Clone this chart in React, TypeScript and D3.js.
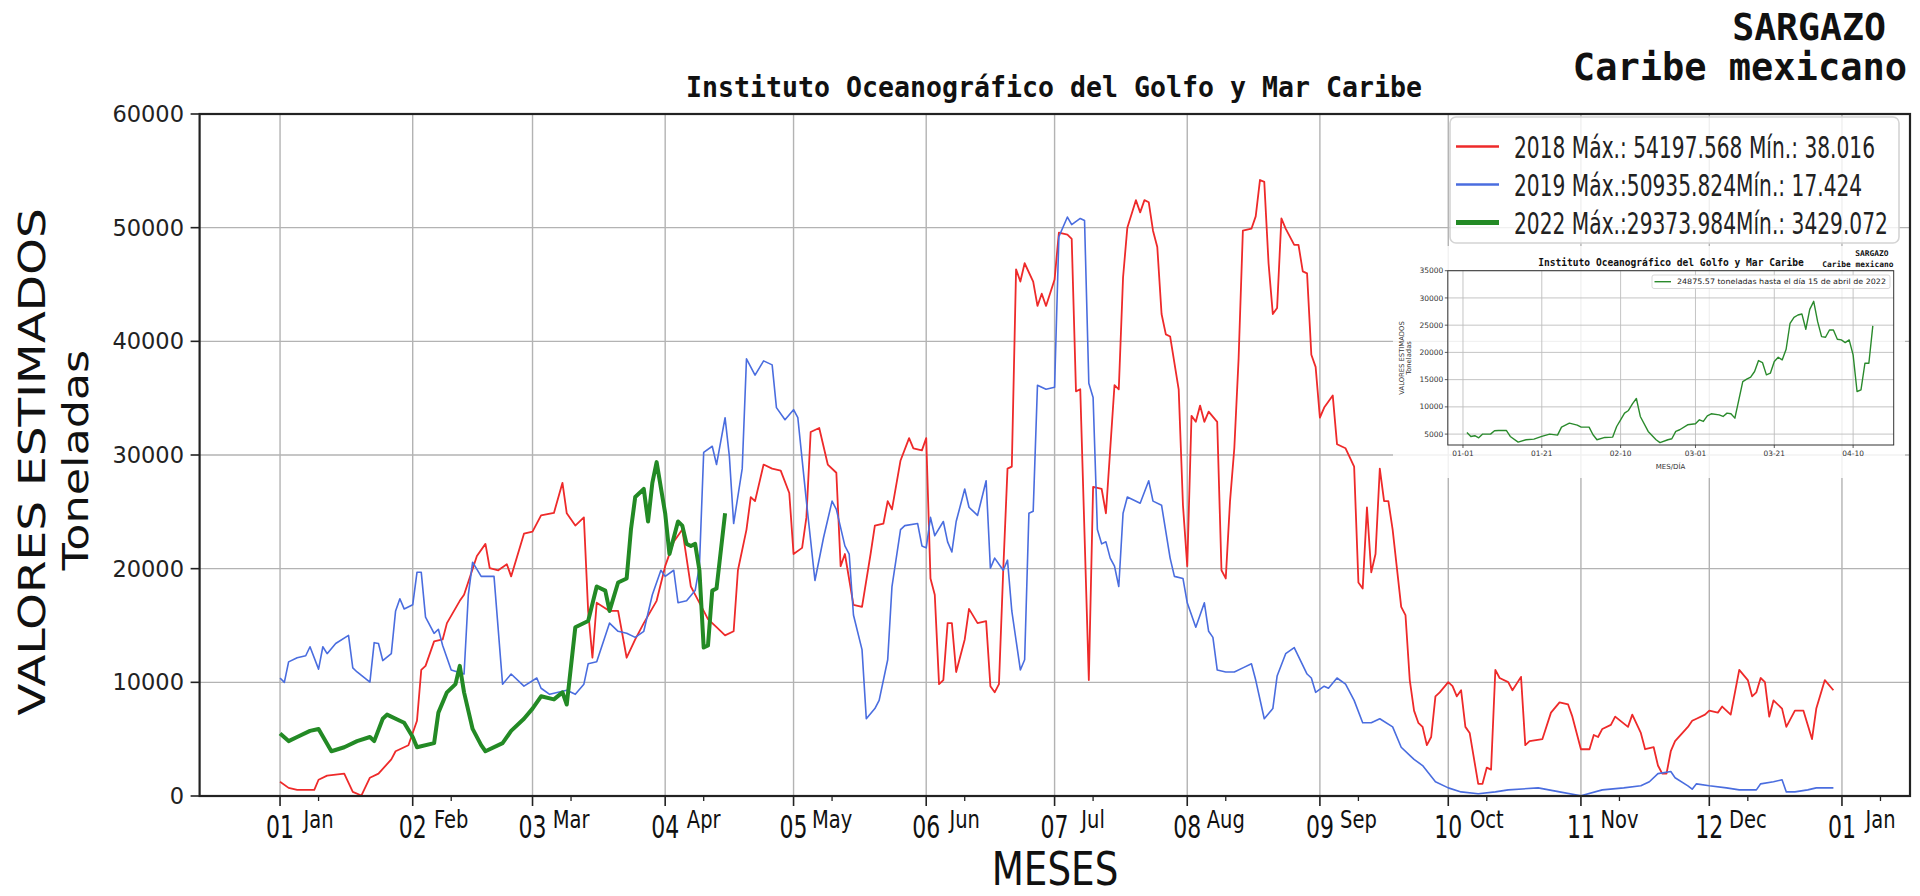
import * as d3 from "d3";

// ---- data (día del año, 0 = 1 de enero; toneladas) ----
const serie2018: [number, number][] = [
  [0,1250],[2,715],[4,540],[8,540],[9,1430],[11,1790],[15,1970],[17,360],[19,40],[21,1610],[23,1970],[26,3220],[27,3940],[30,4470],[32,6620],[33,11090],[34,11450],[36,13600],[38,13775],[39,15210],[42,17170],[43,17710],[46,21110],[48,22180],[49,20040],[51,19860],[53,20390],[54,19320],[57,23080],[59,23260],[61,24690],[64,24900],[66,27550],[67,24870],[69,23790],[71,24510],[72,16280],[73,12165],[74,17000],[77,16280],[79,16280],[81,12165],[83,13775],[85,15210],[88,17170],[90,20220],[92,22360],[94,23440],[96,18430],[97,17710],[99,16280],[100,15560],[102,14850],[104,14130],[106,14490],[107,19860],[109,23440],[110,26300],[111,25940],[113,29160],[115,28800],[117,28620],[119,26660],[120,21290],[122,21830],[123,24510],[124,32020],[126,32380],[128,29160],[130,28440],[131,20220],[132,21290],[134,16820],[136,16640],[138,21290],[139,23790],[141,23970],[142,25940],[143,25220],[145,29520],[147,31490],[148,30590],[150,30410],[151,31490],[152,19140],[153,17710],[154,9840],[155,10200],[156,15210],[157,15210],[158,10910],[160,13775],[161,16460],[163,15210],[165,15390],[166,9660],[167,9120],[168,9840],[169,19860],[170,28800],[171,28980],[172,46335],[173,45260],[174,46870],[176,45260],[177,43115],[178,44190],[179,43115],[181,45440],[182,49555],[184,49380],[185,49020],[186,35600],[187,35780],[189,10200],[190,27190],[192,27010],[193,24870],[195,36140],[196,35780],[197,45620],[198,50000],[200,52420],[201,51345],[202,52420],[203,52240],[204,49730],[205,48300],[206,42400],[207,40610],[208,40430],[210,35780],[211,25580],[212,20220],[213,33450],[214,32920],[215,34350],[216,32920],[217,33810],[219,32920],[220,19860],[221,19140],[222,25940],[223,30590],[224,38460],[225,49730],[227,49910],[228,50990],[229,54198],[230,54030],[231,46870],[232,42400],[233,42940],[234,50810],[235,49910],[237,48480],[238,48480],[239,46155],[240,45980],[241,38820],[242,37750],[243,33280],[244,34170],[246,35240],[247,30950],[249,30590],[251,28980],[252,18780],[253,18250],[254,25400],[255,19680],[256,21290],[257,28800],[258,25940],[259,25940],[260,23440],[262,16640],[263,15920],[264,10200],[265,7510],[266,6440],[267,6080],[268,4470],[269,5190],[270,8770],[271,9120],[273,10020],[274,9660],[275,8770],[276,9300],[277,6080],[278,5545],[280,1070],[281,1070],[282,2500],[283,2325],[284,11090],[285,10380],[287,10020],[288,9300],[290,10480],[291,4470],[292,4830],[295,5010],[297,7335],[299,8230],[301,8050],[302,6980],[304,4115],[306,4115],[307,5370],[308,5190],[309,5900],[311,6260],[312,6980],[315,6080],[316,7160],[318,5545],[319,4115],[321,4290],[322,2680],[323,1970],[324,1970],[325,3940],[326,4830],[329,6080],[330,6620],[331,6800],[333,7160],[334,7510],[336,7335],[337,7870],[339,7160],[341,11090],[343,10200],[344,8770],[345,9120],[346,10380],[347,10020],[348,6980],[349,8410],[351,7690],[352,6080],[354,7510],[356,7510],[358,5010],[359,7690],[361,10200],[363,9300],
];

const serie2019: [number, number][] = [
  [0,10380],[1,10000],[2,11800],[4,12165],[6,12340],[7,13130],[9,11160],[10,13130],[11,12520],[13,13420],[16,14130],[17,11270],[18,10910],[21,10020],[22,13490],[23,13420],[24,11915],[26,12520],[27,16280],[28,17350],[29,16460],[31,16820],[32,19680],[33,19680],[34,15740],[36,14310],[37,14670],[38,13240],[40,11090],[43,10730],[44,17710],[45,20570],[47,19320],[50,19320],[52,9840],[54,10730],[57,9660],[60,10380],[61,9480],[63,8945],[65,9120],[67,9300],[69,8945],[71,9840],[72,11630],[74,11810],[77,15210],[79,14490],[81,14310],[83,13955],[85,14490],[87,17710],[89,19860],[90,19320],[92,19860],[93,17000],[95,17170],[97,18070],[98,20220],[99,30230],[101,30770],[102,29160],[104,33280],[105,29880],[106,23970],[108,28800],[109,38460],[111,37030],[113,38280],[115,37930],[116,34170],[118,33100],[120,33990],[121,33280],[123,25940],[125,18960],[127,22720],[129,25940],[130,25220],[132,22000],[133,21290],[134,15920],[136,12880],[137,6800],[139,7690],[140,8410],[142,11990],[143,18430],[145,23440],[146,23790],[149,23970],[150,22000],[151,21830],[152,24510],[153,22900],[155,24150],[156,22360],[157,21470],[158,24150],[160,27010],[161,25400],[163,24690],[165,27730],[166,20040],[167,20930],[169,19860],[170,20750],[171,16280],[173,11090],[174,11990],[175,24870],[176,25050],[177,36140],[179,35780],[181,35960],[182,49200],[184,50936],[185,50270],[187,50810],[188,50630],[189,36320],[190,35060],[191,23440],[192,22180],[193,22360],[194,20930],[195,20220],[196,18430],[197,24870],[198,26300],[201,25760],[203,27730],[204,25940],[206,25580],[208,20930],[209,19320],[211,19140],[212,17000],[214,14850],[216,17000],[217,14490],[218,13955],[219,11090],[221,10910],[223,10910],[225,11270],[227,11630],[228,10200],[230,6800],[232,7690],[233,10550],[235,12520],[237,13060],[240,10730],[241,10380],[242,9120],[244,9660],[245,9480],[247,10380],[249,9840],[251,8410],[253,6440],[255,6440],[257,6800],[260,6080],[262,4290],[264,3580],[265,3220],[267,2680],[270,1250],[273,715],[276,360],[280,200],[284,360],[287,540],[294,715],[299,360],[304,17],[309,540],[314,715],[318,895],[320,1250],[322,1970],[325,2150],[326,1610],[329,895],[330,600],[331,1070],[334,895],[338,715],[341,540],[345,540],[346,1070],[349,1250],[351,1430],[352,360],[354,360],[357,540],[359,715],[363,715],
];

const serie2022: [number, number][] = [
  [0,5500],[2,4830],[4,5190],[7,5725],[9,5900],[12,3935],[15,4290],[18,4830],[21,5190],[22,4830],[24,6800],[25,7160],[28,6620],[29,6440],[31,5190],[32,4290],[36,4650],[37,7335],[39,9120],[41,9840],[42,11450],[43,9120],[45,5900],[47,4470],[48,3935],[52,4650],[54,5725],[57,6800],[59,7690],[61,8770],[64,8500],[66,9120],[67,8050],[69,14850],[72,15390],[74,18430],[76,18070],[77,16280],[79,18780],[81,19140],[82,23440],[83,26300],[85,27010],[86,24150],[87,27550],[88,29374],[90,24870],[91,21290],[93,24150],[94,23790],[95,22180],[96,22000],[97,22180],[98,19860],[99,13060],[100,13240],[101,18070],[102,18250],[104,24876],
];

// serie del recuadro (2022, día del año)
const recuadro2022: [number, number][] = [
  [1,5300],[2,4570],[3,4700],[4,4330],[5,5000],[7,5000],[8,5610],[9,5670],[11,5670],[12,4570],[14,3530],[16,3960],[18,4080],[20,4570],[22,5000],[24,4820],[25,6280],[27,7020],[29,6650],[30,6280],[32,6280],[33,4880],[34,3960],[36,4390],[38,4450],[39,6400],[40,7630],[41,8850],[42,9340],[43,10560],[44,11540],[45,8240],[47,5490],[49,3960],[50,3430],[52,3960],[53,4140],[54,5490],[55,5800],[57,6710],[59,6890],[60,7630],[61,7320],[62,8360],[63,8730],[65,8540],[66,8240],[67,8850],[68,8730],[69,7930],[70,11290],[71,14650],[72,15080],[73,15450],[74,16490],[75,18500],[76,18140],[77,15880],[78,16180],[79,18320],[80,19110],[81,18620],[82,20580],[83,25350],[84,26450],[85,26870],[86,27060],[87,24250],[88,27910],[89,29374],[90,25650],[91,22900],[92,22780],[93,24120],[94,24120],[95,22410],[96,22290],[97,21800],[98,22290],[99,19540],[100,12820],[101,13130],[102,18010],[103,18010],[104,24876],
];

const mesesNum = ["01","02","03","04","05","06","07","08","09","10","11","12","01"];
const mesesNombre = ["Jan","Feb","Mar","Apr","May","Jun","Jul","Aug","Sep","Oct","Nov","Dec","Jan"];
const yTicks = [0, 10000, 20000, 30000, 40000, 50000, 60000];
const leyenda = [
  "2018 Máx.: 54197.568 Mín.: 38.016",
  "2019 Máx.:50935.824Mín.: 17.424",
  "2022 Máx.:29373.984Mín.: 3429.072",
];
const colores = ["#ee2a2a", "#4a6ddf", "#238a25"];

const recuadroTicksDia = [0, 20, 40, 59, 79, 99];
const recuadroTicksLabel = ["01-01", "01-21", "02-10", "03-01", "03-21", "04-10"];
const recuadroYTicks = [5000, 10000, 15000, 20000, 25000, 30000, 35000];

const DAY = 864e5;
const d18 = (d: number) => new Date(Date.UTC(2018, 0, 1) + d * DAY);
const d22 = (d: number) => new Date(Date.UTC(2022, 0, 1) + d * DAY);

const SANS = "DejaVu Sans";
const MONO = "DejaVu Sans Mono";

function SText({ x, y, sx = 1, sy = 1, rot = 0, children, ...rest }: any) {
  return (
    <text transform={`translate(${x},${y}) rotate(${rot}) scale(${sx},${sy})`} {...rest}>
      {children}
    </text>
  );
}

export default function App() {
  const left = 199.6, right = 1910, top = 114, bottom = 796;
  const x = d3.scaleUtc().domain([d18(-18.8), d18(380.9)]).range([left, right]);
  const y = d3.scaleLinear().domain([0, 60000]).range([bottom, top]);
  const line = d3.line<[number, number]>().x((d) => x(d18(d[0]))).y((d) => y(d[1]));

  const majors = d3.utcMonth.range(d18(0), d18(366));
  const minors = majors.map((d) => d3.utcDay.offset(d, 9));

  // inset
  const il = 1447.8, ir = 1893.7, it = 270.7, ib = 445;
  const xi = d3.scaleUtc().domain([d22(-3.85), d22(109.3)]).range([il, ir]);
  const yi = d3.scaleLinear().domain([3000, 35000]).range([ib, it]);
  const lineI = d3.line<[number, number]>().x((d) => xi(d22(d[0]))).y((d) => yi(d[1]));

  const series = [serie2018, serie2019, serie2022];
  const widths = [1.8, 1.6, 4];

  return (
    <svg width={1920} height={896} style={{ position: "absolute", left: 0, top: 0, background: "#fff" }}>
      <rect width={1920} height={896} fill="#fff" />

      {/* grid */}
      {majors.map((m, i) => (
        <line key={"gx" + i} x1={x(m)} x2={x(m)} y1={top} y2={bottom} stroke="#b3b3b3" strokeWidth={1.4} />
      ))}
      {yTicks.map((t) => (
        <line key={"gy" + t} x1={left} x2={right} y1={y(t)} y2={y(t)} stroke="#b3b3b3" strokeWidth={1.4} />
      ))}

      {/* series */}
      {series.map((s, i) => (
        <path key={"s" + i} d={line(s) || ""} fill="none" stroke={colores[i]} strokeWidth={widths[i]} strokeLinejoin="round" />
      ))}

      {/* frame */}
      <rect x={left} y={top} width={right - left} height={bottom - top} fill="none" stroke="#222" strokeWidth={2.2} />

      {/* y axis */}
      {yTicks.map((t) => (
        <g key={"yt" + t}>
          <line x1={left - 9} x2={left} y1={y(t)} y2={y(t)} stroke="#222" strokeWidth={1.6} />
          <text x={184} y={y(t)} dy="0.36em" textAnchor="end" fontFamily={SANS} fontSize={22.5} fill="#222">
            {t}
          </text>
        </g>
      ))}

      {/* x axis */}
      {majors.map((m, i) => (
        <g key={"xt" + i}>
          <line x1={x(m)} x2={x(m)} y1={bottom} y2={bottom + 10} stroke="#222" strokeWidth={1.6} />
          <SText x={x(m)} y={838} sy={1.42} textAnchor="middle" fontFamily={SANS} fontSize={22} fill="#111">
            {mesesNum[i]}
          </SText>
        </g>
      ))}
      {minors.map((m, i) => (
        <g key={"xm" + i}>
          <line x1={x(m)} x2={x(m)} y1={bottom} y2={bottom + 5} stroke="#222" strokeWidth={1.3} />
          <SText x={x(m)} y={828} sy={1.3} textAnchor="middle" fontFamily={SANS} fontSize={19.5} fill="#111">
            {mesesNombre[i]}
          </SText>
        </g>
      ))}

      {/* axis labels */}
      <SText x={1055} y={885} sy={1.26} textAnchor="middle" fontFamily={SANS} fontSize={37.3} fill="#111">
        MESES
      </SText>
      <SText x={45} y={462} rot={-90} sx={1.27} textAnchor="middle" fontFamily={SANS} fontSize={37} fill="#111">
        VALORES ESTIMADOS
      </SText>
      <SText x={88} y={460} rot={-90} sx={1.27} textAnchor="middle" fontFamily={SANS} fontSize={35} fill="#111">
        Toneladas
      </SText>

      {/* titles */}
      <SText x={686} y={97} sy={1.08} fontFamily={MONO} fontWeight="bold" fontSize={26.6} fill="#111" textLength={736} lengthAdjust="spacingAndGlyphs">
        Instituto Oceanográfico del Golfo y Mar Caribe
      </SText>
      <text x={1886} y={40} textAnchor="end" fontFamily={MONO} fontWeight="bold" fontSize={36.5} fill="#111">
        SARGAZO
      </text>
      <text x={1907} y={80} textAnchor="end" fontFamily={MONO} fontWeight="bold" fontSize={37} fill="#111">
        Caribe mexicano
      </text>

      {/* legend */}
      <rect x={1450} y={117} width={449} height={126} rx={6} fill="#fff" fillOpacity={0.8} stroke="#d4d4d4" strokeWidth={1.6} />
      {leyenda.map((t, i) => {
        const cy = 146.5 + i * 38;
        return (
          <g key={"lg" + i}>
            <line x1={1456} x2={1499} y1={cy} y2={cy} stroke={colores[i]} strokeWidth={i === 2 ? 5 : 2.4} />
            <SText x={1514} y={cy + 11} sy={1.5} fontFamily={SANS} fontSize={20.2} fill="#222">
              {t}
            </SText>
          </g>
        );
      })}

      {/* inset */}
      <g>
        <rect x={1393} y={246} width={512} height={232} fill="#fff" fillOpacity={0.82} />
        {recuadroTicksDia.map((d) => (
          <line key={"igx" + d} x1={xi(d22(d))} x2={xi(d22(d))} y1={it} y2={ib} stroke="#bdbdbd" strokeWidth={0.9} />
        ))}
        {recuadroYTicks.map((t) => (
          <line key={"igy" + t} x1={il} x2={ir} y1={yi(t)} y2={yi(t)} stroke="#bdbdbd" strokeWidth={0.9} />
        ))}
        <path d={lineI(recuadro2022) || ""} fill="none" stroke="#2a8a2c" strokeWidth={1.4} strokeLinejoin="round" />
        <rect x={il} y={it} width={ir - il} height={ib - it} fill="none" stroke="#333" strokeWidth={1} />
        {recuadroYTicks.map((t) => (
          <g key={"iyt" + t}>
            <line x1={il - 3} x2={il} y1={yi(t)} y2={yi(t)} stroke="#333" strokeWidth={0.8} />
            <text x={il - 4.5} y={yi(t)} dy="0.35em" textAnchor="end" fontFamily={SANS} fontSize={7.5} fill="#333">
              {t}
            </text>
          </g>
        ))}
        {recuadroTicksDia.map((d, i) => (
          <g key={"ixt" + d}>
            <line x1={xi(d22(d))} x2={xi(d22(d))} y1={ib} y2={ib + 3} stroke="#333" strokeWidth={0.8} />
            <text x={xi(d22(d))} y={456} textAnchor="middle" fontFamily={SANS} fontSize={7.4} fill="#333">
              {recuadroTicksLabel[i]}
            </text>
          </g>
        ))}
        <text x={1670.5} y={468.5} textAnchor="middle" fontFamily={SANS} fontSize={7} fill="#333">
          MES/DÍA
        </text>
        <SText x={1404} y={358} rot={-90} textAnchor="middle" fontFamily={SANS} fontSize={6.8} fill="#333">
          VALORES ESTIMADOS
        </SText>
        <SText x={1410.5} y={358} rot={-90} textAnchor="middle" fontFamily={SANS} fontSize={6.8} fill="#333">
          Toneladas
        </SText>
        <text x={1671} y={266} textAnchor="middle" fontFamily={MONO} fontWeight="bold" fontSize={9.6} fill="#111">
          Instituto Oceanográfico del Golfo y Mar Caribe
        </text>
        <text x={1888.5} y={256} textAnchor="end" fontFamily={MONO} fontWeight="bold" fontSize={7.9} fill="#111">
          SARGAZO
        </text>
        <text x={1893.5} y={266.5} textAnchor="end" fontFamily={MONO} fontWeight="bold" fontSize={7.9} fill="#111">
          Caribe mexicano
        </text>
        <rect x={1652} y={275} width={238} height={13.5} rx={2} fill="#fff" fillOpacity={0.85} stroke="#cfcfcf" strokeWidth={0.8} />
        <line x1={1654.5} x2={1671} y1={281.7} y2={281.7} stroke="#2a8a2c" strokeWidth={1.4} />
        <text x={1677} y={284.4} fontFamily={SANS} fontSize={7.4} fill="#222" textLength={209} lengthAdjust="spacingAndGlyphs">
          24875.57 toneladas hasta el día 15 de abril de 2022
        </text>
      </g>
    </svg>
  );
}
